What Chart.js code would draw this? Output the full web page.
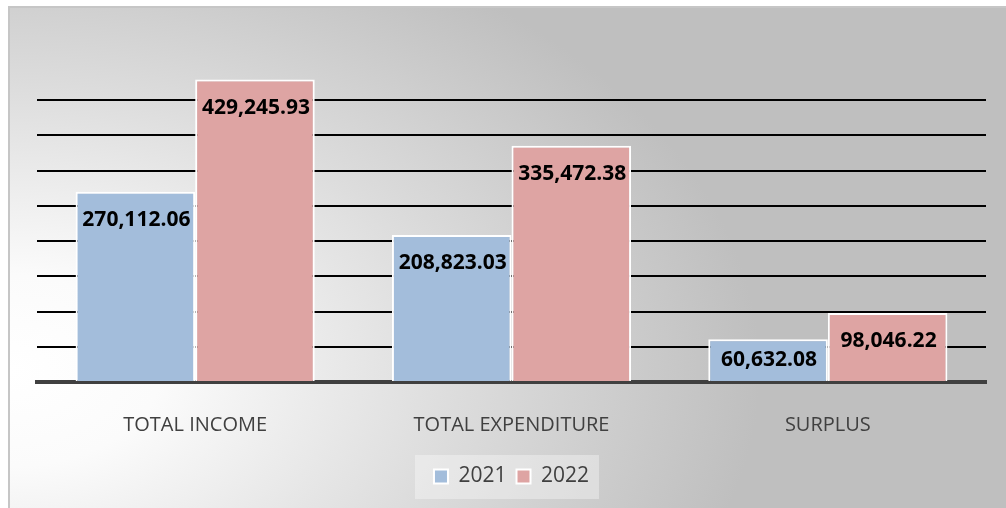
<!DOCTYPE html>
<html>
<head>
<meta charset="utf-8">
<script src="https://cdn.jsdelivr.net/npm/chart.js@4"></script>
<style>
  body { margin: 0; width: 1006px; height: 508px; overflow: hidden; background: #fff; position: relative; }
  #frame {
    position: absolute; left: 8px; top: 6px; width: 1000px; height: 504px;
    border-left: 2px solid #c6c6c6; border-top: 2px solid #c6c6c6;
    background: radial-gradient(ellipse 75% 95% at 0% 72%, #ffffff 0%, #fbfbfb 20%, #dcdcdc 60%, #bfbfbf 100%);
  }
  #wrap { position: absolute; left: 0; top: 0; width: 1006px; height: 508px; }
</style>
</head>
<body>
<div id="frame"></div>
<div id="wrap"><canvas id="budgetChart" width="1006" height="508"></canvas></div>
<script>
// categories and values
const categories = ['TOTAL INCOME', 'TOTAL EXPENDITURE', 'SURPLUS'];
const seriesNames = ['2021', '2022'];
const values2021 = [270112.06, 208823.03, 60632.08];
const values2022 = [429245.93, 335472.38, 98046.22];
const yMax = 450000;
const yStep = 50000;

const fontName = "'Open Sans', 'Noto Sans', sans-serif";

// draws the number inside the top of each bar
const barLabels = {
    id: 'barLabels',
    afterDraw(chart) {
        const ctx = chart.ctx;
        ctx.save();
        ctx.font = 'bold 21px ' + fontName;
        ctx.fillStyle = '#000';
        ctx.textAlign = 'center';
        ctx.textBaseline = 'middle';
        chart.data.datasets.forEach(function (ds, i) {
            chart.getDatasetMeta(i).data.forEach(function (bar, j) {
                let txt = ds.data[j].toLocaleString('en-US', { minimumFractionDigits: 2, maximumFractionDigits: 2 });
                // keep the label inside short bars
                let off = Math.min(28, (bar.base - bar.y) / 2);
                ctx.fillText(txt, bar.x + 1, bar.y + off);
            });
        });
        ctx.restore();
    }
};

// light panel behind the legend
const legendPanel = {
    id: 'legendPanel',
    beforeDraw(chart) {
        const boxes = chart.legend.legendHitBoxes;
        if (!boxes || !boxes.length) return;
        let left = Math.min.apply(null, boxes.map(b => b.left));
        let right = Math.max.apply(null, boxes.map(b => b.left + b.width));
        let top = Math.min.apply(null, boxes.map(b => b.top));
        let bottom = Math.max.apply(null, boxes.map(b => b.top + b.height));
        const ctx = chart.ctx;
        ctx.save();
        ctx.fillStyle = 'rgba(255,255,255,0.35)';
        ctx.fillRect(left - 19, top - 11, right - left + 29, bottom - top + 23);
        ctx.restore();
    }
};

const ctx = document.getElementById('budgetChart').getContext('2d');
const budgetChart = new Chart(ctx, {
    type: 'bar',
    data: {
        labels: categories,
        datasets: [{
            label: seriesNames[0],
            data: values2021,
            backgroundColor: '#a3bddb',
            borderColor: '#ffffff',
            borderWidth: 2,
            borderSkipped: 'bottom'
        }, {
            label: seriesNames[1],
            data: values2022,
            backgroundColor: '#dea4a3',
            borderColor: '#ffffff',
            borderWidth: 2,
            borderSkipped: 'bottom'
        }]
    },
    options: {
        responsive: false,
        animation: false,
        layout: { padding: { left: 37, right: 20, top: 65, bottom: 11 } },
        datasets: { bar: { categoryPercentage: 0.756, barPercentage: 1 } },
        plugins: {
            tooltip: { enabled: false },
            legend: {
                position: 'bottom',
                labels: {
                    font: { family: fontName, size: 21 },
                    color: '#404040',
                    boxWidth: 14,
                    boxHeight: 14,
                    padding: 10
                }
            }
        },
        scales: {
            x: {
                z: 1,
                grid: { display: false },
                border: { color: '#404040', width: 4 },
                ticks: {
                    font: { family: fontName, size: 20 },
                    color: '#404040',
                    padding: 23
                },
                afterFit: function (scale) { scale.height = 74; }
            },
            y: {
                z: 1,
                min: 0,
                max: yMax,
                border: { display: false },
                ticks: { display: false, stepSize: yStep },
                grid: {
                    drawTicks: false,
                    lineWidth: 2,
                    color: function (c) {
                        if (c.tick.value === 0 || c.tick.value === yMax) return 'rgba(0,0,0,0)';
                        return '#000';
                    }
                }
            }
        }
    },
    plugins: [legendPanel, barLabels]
});
</script>
</body>
</html>
